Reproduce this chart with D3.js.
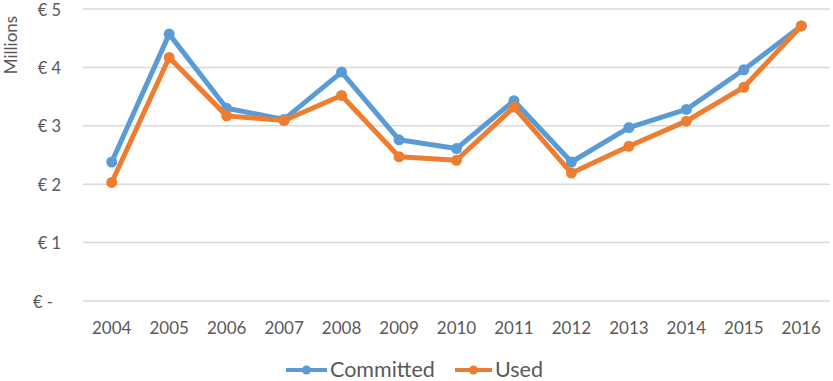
<!DOCTYPE html>
<html><head><meta charset="utf-8">
<script src="https://cdn.jsdelivr.net/npm/d3@7"></script>
<style>
html,body{margin:0;padding:0;background:#fff;}
svg{display:block;font-family:Lato,"Open Sans",sans-serif;}
</style></head>
<body>
<svg id="chart" width="833" height="381"></svg>
<script>
const years = ["2004","2005","2006","2007","2008","2009","2010","2011","2012","2013","2014","2015","2016"];
const committed = [2.38,4.57,3.30,3.11,3.92,2.76,2.61,3.43,2.38,2.97,3.28,3.96,4.71];
const used = [2.03,4.17,3.17,3.09,3.52,2.47,2.41,3.32,2.19,2.65,3.08,3.66,4.71];
const yTicks = [0,1,2,3,4,5];
const yTickLabels = ["€ -","€ 1","€ 2","€ 3","€ 4","€ 5"];
const seriesNames = ["Committed","Used"];
const colors = ["#5B9BD5","#ED7D31"];

const svg = d3.select("#chart");
const x = d3.scaleBand().domain(years).range([83,830]);
const y = d3.scaleLinear().domain([0,5]).range([301,9]);
const textColor = "#595959";

// gridlines
svg.append("g").selectAll("line").data(yTicks).join("line")
  .attr("x1",83).attr("x2",830)
  .attr("y1",d=>y(d)).attr("y2",d=>y(d))
  .attr("stroke","#d9d9d9").attr("stroke-width",1.5);

// y labels
svg.append("g").selectAll("text").data(yTicks).join("text")
  .attr("x",d=>d===0?53:61).attr("y",d=>y(d)+6.5)
  .attr("text-anchor","end").attr("fill",textColor).attr("font-size",16.5)
  .text((d,i)=>yTickLabels[i]);

// x labels
svg.append("g").selectAll("text").data(years).join("text")
  .attr("x",d=>x(d)+x.bandwidth()/2).attr("y",334)
  .attr("text-anchor","middle").attr("fill",textColor).attr("font-size",17)
  .text(d=>d);

// axis title
svg.append("text").attr("transform","translate(17,45) rotate(-90)")
  .attr("text-anchor","middle").attr("fill",textColor).attr("font-size",17)
  .text("Millions");

const series = [committed, used];
const line = d3.line().x((d,i)=>x(years[i])+x.bandwidth()/2).y(d=>y(d));
series.forEach((vals,si)=>{
  const g = svg.append("g");
  g.append("path").datum(vals).attr("d",line).attr("fill","none")
    .attr("stroke",colors[si]).attr("stroke-width",5).attr("stroke-linejoin","round");
  g.selectAll("circle").data(vals).join("circle")
    .attr("cx",(d,i)=>x(years[i])+x.bandwidth()/2).attr("cy",d=>y(d))
    .attr("r",5.5).attr("fill",colors[si]);
});

// legend
const legX = [286,455];
const legW = [41,37];
seriesNames.forEach((n,i)=>{
  const g = svg.append("g");
  g.append("line").attr("x1",legX[i]).attr("x2",legX[i]+legW[i]).attr("y1",370).attr("y2",370)
    .attr("stroke",colors[i]).attr("stroke-width",4);
  g.append("circle").attr("cx",legX[i]+legW[i]/2).attr("cy",370).attr("r",4.5).attr("fill",colors[i]);
  g.append("text").attr("x",legX[i]+legW[i]+3).attr("y",377).attr("fill",textColor)
    .attr("font-size",21.5).text(n);
});
</script>
</body></html>
